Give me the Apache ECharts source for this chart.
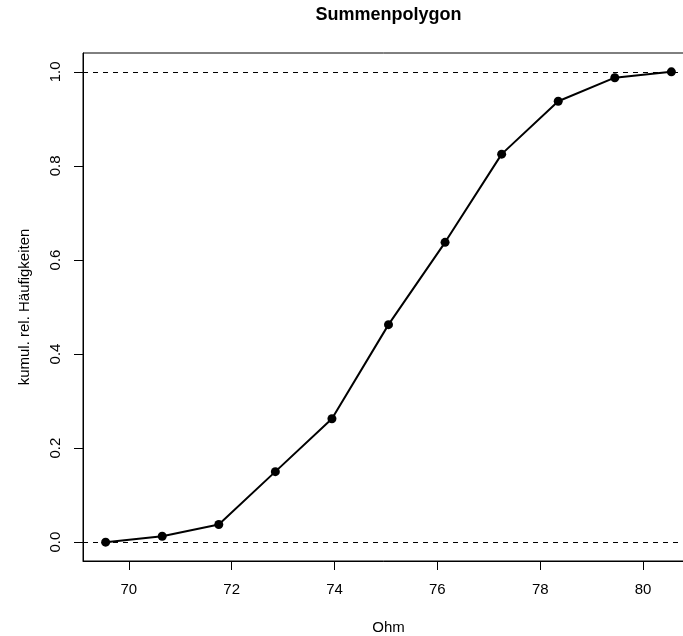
<!DOCTYPE html>
<html>
<head>
<meta charset="utf-8">
<script src="https://cdn.jsdelivr.net/npm/echarts@6/dist/echarts.min.js"></script>
<style>
  html, body {margin: 0; padding: 0; background: #fff;}
</style>
</head>
<body>
<div id="summenChart" style="width:683px;height:636px;"></div>
<script>
// Klassenmitten (Ohm) und kumulierte relative Haeufigkeiten
const ohm = [69.55, 70.65, 71.75, 72.85, 73.95, 75.05, 76.15, 77.25, 78.35, 79.45, 80.55];
const kumRelH = [0, 0.0125, 0.0375, 0.15, 0.2625, 0.4625, 0.6375, 0.825, 0.9375, 0.9875, 1];
const xTicks = [70, 72, 74, 76, 78, 80];
const yTicks = [0, 0.2, 0.4, 0.6, 0.8, 1.0];
const refLines = [0, 1];

const font = 'Liberation Sans, Arial, Helvetica, sans-serif';

const option = {
  animation: false,
  backgroundColor: '#fff',
  title: {
    text: 'Summenpolygon',
    left: 388.5,
    textAlign: 'center',
    top: 6,
    padding: 0,
    textStyle: {color: '#000', fontSize: 18, fontWeight: 'bold', fontFamily: font}
  },
  // Plotbereich geht rechts ueber den Bildrand hinaus (wie im Original)
  grid: {
    left: 83, top: 53, width: 611, height: 508,
    outerBoundsMode: 'none', containLabel: false,
    show: true, borderColor: '#000', borderWidth: 1
  },
  xAxis: {
    type: 'value',
    min: 69.11,
    max: 80.99,
    name: 'Ohm',
    nameLocation: 'middle',
    nameGap: 59,
    nameTextStyle: {color: '#000', fontSize: 15, fontFamily: font},
    axisLine: {show: true, onZero: false, lineStyle: {color: '#000', width: 1}},
    axisTick: {show: true, inside: false, length: 9, customValues: xTicks, lineStyle: {color: '#000'}},
    axisLabel: {customValues: xTicks, color: '#000', fontSize: 15, fontFamily: font, margin: 21},
    splitLine: {show: false}
  },
  yAxis: {
    type: 'value',
    min: -0.04,
    max: 1.04,
    name: 'kumul. rel. Häufigkeiten',
    nameLocation: 'middle',
    nameRotate: 90,
    nameGap: 51,
    nameTextStyle: {color: '#000', fontSize: 15, fontFamily: font},
    axisLine: {show: true, onZero: false, lineStyle: {color: '#000', width: 1}},
    axisTick: {show: true, inside: false, length: 9, customValues: yTicks, lineStyle: {color: '#000'}},
    axisLabel: {
      customValues: yTicks,
      rotate: 90,
      color: '#000',
      fontSize: 15,
      fontFamily: font,
      margin: 20,
      formatter: v => v.toFixed(1)
    },
    splitLine: {show: false}
  },
  series: [{
    type: 'line',
    data: ohm.map((x, i) => [x, kumRelH[i]]),
    symbol: 'circle',
    symbolSize: 9,
    itemStyle: {color: '#000'},
    lineStyle: {color: '#000', width: 2},
    markLine: {
      silent: true,
      symbol: ['none', 'none'],
      label: {show: false},
      lineStyle: {color: '#000', width: 1, type: [5, 5]},
      data: refLines.map(v => ({yAxis: v}))
    }
  }]
};

const chart = echarts.init(document.getElementById('summenChart'));
chart.setOption(option);
</script>
</body>
</html>
